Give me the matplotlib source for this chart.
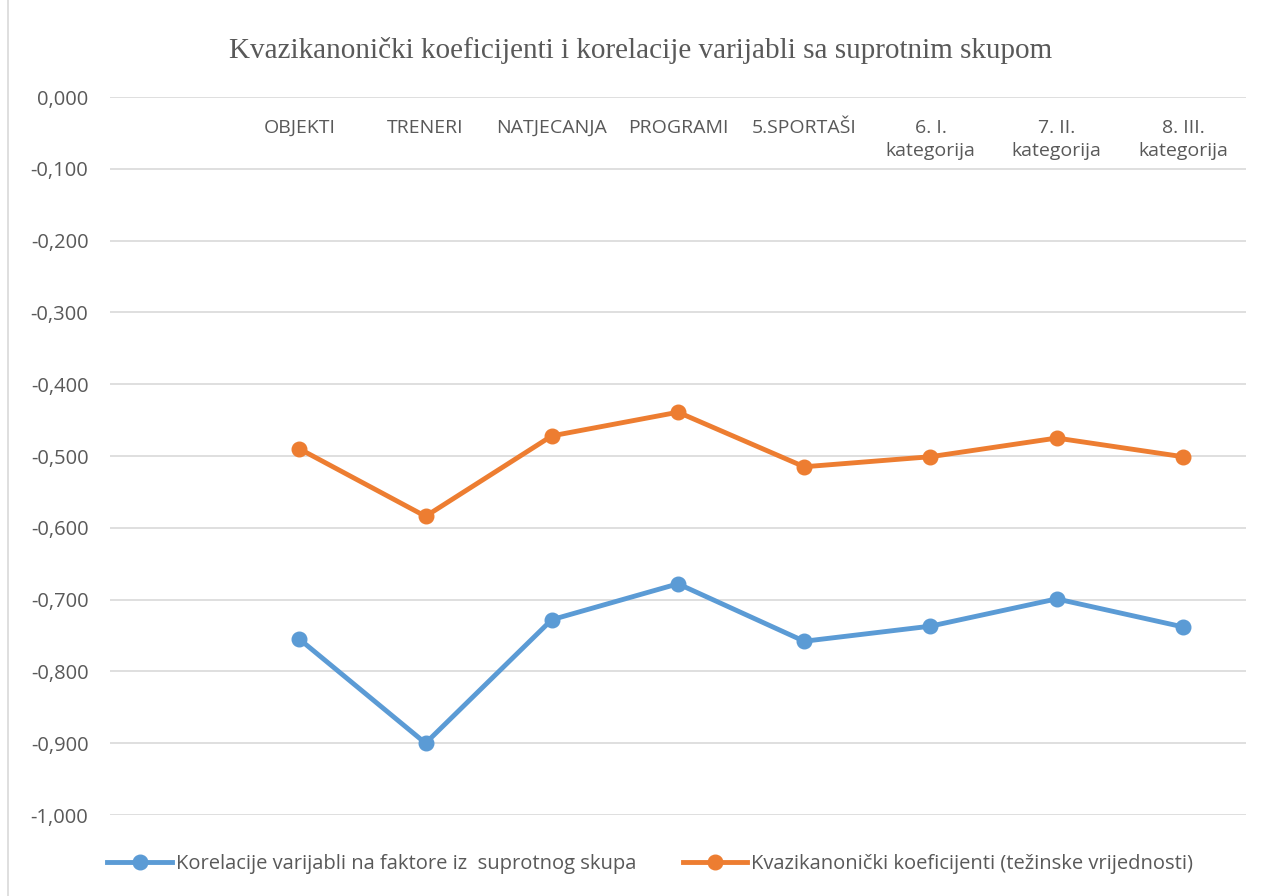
import matplotlib
matplotlib.use("Agg")
import matplotlib.pyplot as plt
from matplotlib.lines import Line2D
from matplotlib.ticker import FuncFormatter
import numpy as np

categories = ["OBJEKTI", "TRENERI", "NATJECANJA", "PROGRAMI", "5.SPORTAŠI",
              "6. I.\nkategorija", "7. II.\nkategorija", "8. III.\nkategorija"]
korelacije = [-0.755, -0.900, -0.728, -0.678, -0.758, -0.737, -0.699, -0.738]
kvazikanonicki = [-0.490, -0.584, -0.472, -0.439, -0.515, -0.501, -0.475, -0.501]
series_names = ["Korelacije varijabli na faktore iz  suprotnog skupa",
                "Kvazikanonički koeficijenti (težinske vrijednosti)"]

BLUE = "#5B9BD5"
ORANGE = "#ED7D31"
GRID = "#D9D9D9"
TEXT = "#595959"
SANS = ["Open Sans", "DejaVu Sans"]

fig = plt.figure(figsize=(12.65, 8.96), dpi=100)
ax = fig.add_axes([110 / 1265, 1 - 815 / 896, 1136 / 1265, 718 / 896])

x = np.arange(len(categories))
ax.plot(x, korelacije, "-o", color=BLUE, lw=3.5, ms=10.5, solid_joinstyle="round")
ax.plot(x, kvazikanonicki, "-o", color=ORANGE, lw=3.5, ms=10.5, solid_joinstyle="round")

ax.set_xlim(-1.5, len(categories) - 0.5)
ax.set_ylim(-1.0, 0.0)
ax.set_yticks(np.round(np.arange(-1.0, 0.001, 0.1), 1))
ax.yaxis.set_major_formatter(
    FuncFormatter(lambda v, p: f"{v:.3f}".replace(".", ",").replace("-0,000", "0,000")))
ax.grid(axis="y", color=GRID, lw=1.2)
ax.set_axisbelow(True)
for s in ax.spines.values():
    s.set_visible(False)

ax.set_xticks(x, categories)
ax.tick_params(axis="x", length=0, labeltop=True, labelbottom=False, pad=-16,
               labelsize=14, labelcolor=TEXT)
for lab in ax.get_xticklabels():
    lab.set_verticalalignment("top")
    lab.set_fontfamily(SANS)
    lab.set_linespacing(1.35)
ax.tick_params(axis="y", length=0, pad=15.5, labelsize=14.5, labelcolor=TEXT)
for lab in ax.get_yticklabels():
    lab.set_fontfamily(SANS)

fig.text(0.506, 1 - 50 / 896, "Kvazikanonički koeficijenti i korelacije varijabli sa suprotnim skupom",
         ha="center", va="center", fontsize=21, color=TEXT, family="Liberation Serif")

handles = [Line2D([], [], color=BLUE, lw=3.5, marker="o", ms=10.5),
           Line2D([], [], color=ORANGE, lw=3.5, marker="o", ms=10.5)]
fig.legend(handles, series_names, loc="center", bbox_to_anchor=(0.514, 1 - 864 / 896),
           ncol=2, frameon=False, handlelength=3.2, handletextpad=0.2, columnspacing=2.3,
           prop={"family": SANS, "size": 14.5}, labelcolor=TEXT)

fig.add_artist(Line2D([8 / 1265, 8 / 1265], [0, 1], color=GRID, lw=1.2))

fig.savefig("out.png", dpi=100)
